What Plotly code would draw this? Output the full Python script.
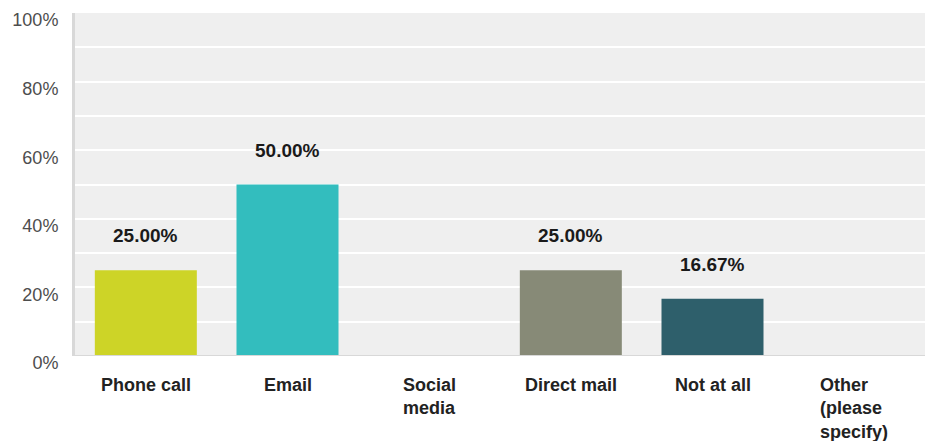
import plotly.graph_objects as go

# Survey responses: preferred contact method
categories = ["Phone call", "Email", "Social media", "Direct mail", "Not at all", "Other (please specify)"]
category_labels = ["Phone call", "Email", "Social<br>media", "Direct mail", "Not at all", "Other<br>(please<br>specify)"]
percentages = [25.00, 50.00, 0.0, 25.00, 16.67, 0.0]
bar_colors = ["#cdd427", "#33bdbe", "#dddddd", "#878a77", "#2e5f6b", "#dddddd"]
y_ticks = [0, 20, 40, 60, 80, 100]
y_tick_labels = ["0%", "20%", "40%", "60%", "80%", "100%"]

FONT = "Liberation Sans, Arial, sans-serif"

fig = go.Figure(
    go.Bar(
        x=categories,
        y=percentages,
        marker=dict(color=bar_colors, line=dict(width=0)),
        hoverinfo="x+y",
    )
)

# value labels above the non-empty bars
for cat, val in zip(categories, percentages):
    if val > 0:
        fig.add_annotation(
            x=cat, y=val, xref="x", yref="y",
            text=f"{val:.2f}%",
            showarrow=False, yanchor="bottom", yshift=22,
            font=dict(family=FONT, size=19, color="#1a1a1a", weight="bold"),
        )

# category labels, lines left-aligned within each label block
for cat, lab in zip(categories, category_labels):
    fig.add_annotation(
        x=cat, y=0, xref="x", yref="y",
        text=f"<b>{lab}</b>",
        showarrow=False, yanchor="top", yshift=-17, align="left",
        font=dict(family=FONT, size=18, color="#222222"),
    )

fig.update_layout(
    width=925, height=441,
    margin=dict(l=75, r=0, t=13, b=85),
    paper_bgcolor="white",
    plot_bgcolor="#efefef",
    bargap=0.28,
    showlegend=False,
    xaxis=dict(
        showticklabels=False,
        showgrid=False,
        zeroline=False,
        showline=False,
        ticks="",
        fixedrange=True,
    ),
    yaxis=dict(
        range=[0, 100],
        tickvals=y_ticks,
        ticktext=y_tick_labels,
        tickfont=dict(family=FONT, size=18, color="#4d4d4d"),
        showgrid=True, gridcolor="white", gridwidth=2,
        minor=dict(dtick=10, showgrid=True, gridcolor="white", gridwidth=2),
        zeroline=False,
        showline=True, linecolor="#d8d8d8", linewidth=3,
        ticks="", ticklabelstandoff=10, ticklabelshift=7,
        fixedrange=True,
    ),
)

# baseline at 0%
fig.add_shape(type="line", xref="paper", yref="y", x0=0, x1=1, y0=0, y1=0,
              line=dict(color="#d8d8d8", width=2), layer="above")

fig.write_html("out.html")
